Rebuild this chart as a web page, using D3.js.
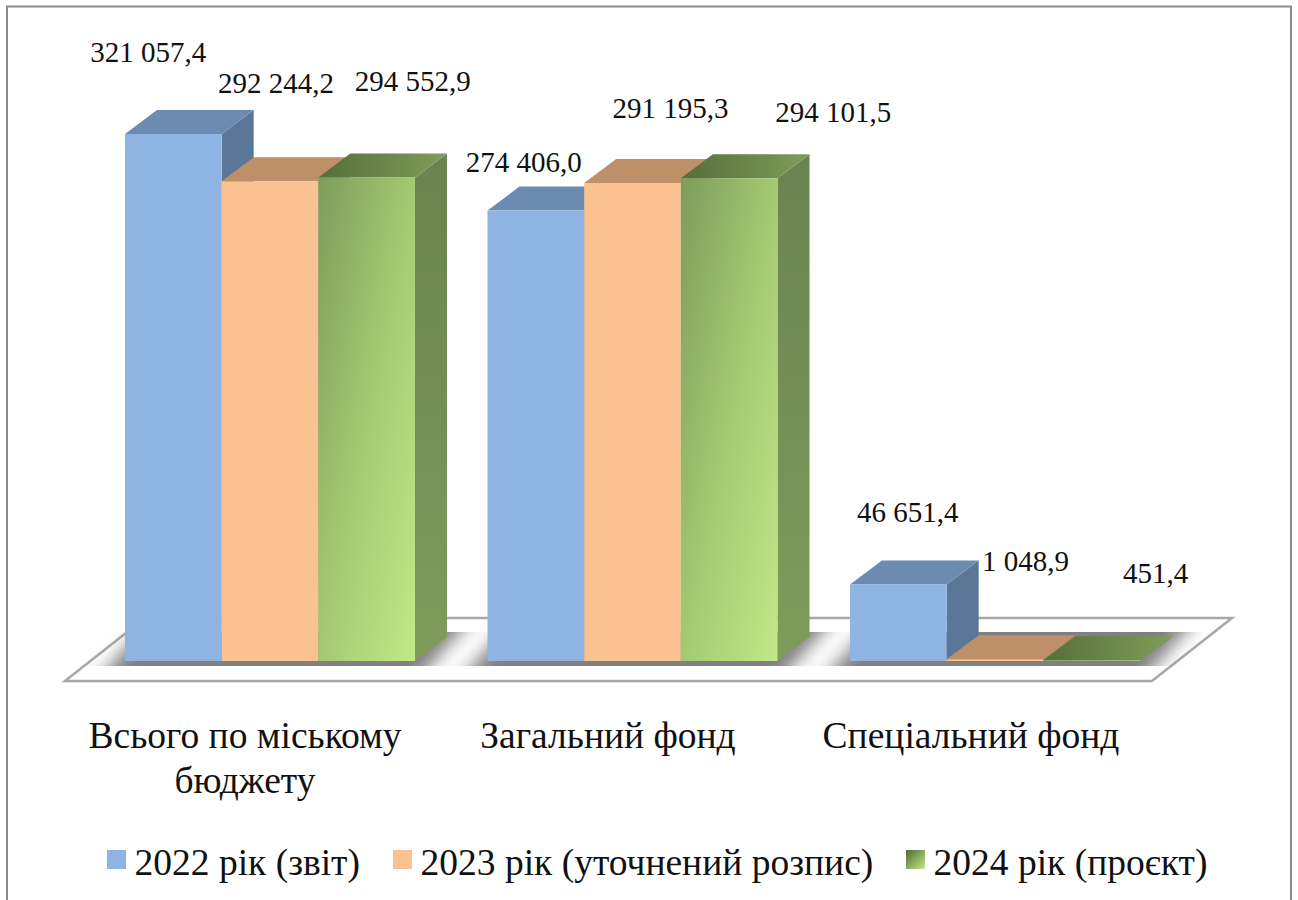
<!DOCTYPE html>
<html>
<head>
<meta charset="utf-8">
<script src="https://cdn.jsdelivr.net/npm/d3@7"></script>
<style>
  html, body { margin: 0; padding: 0; background: #fff; }
  svg { display: block; }
  text { font-family: "Liberation Serif", serif; fill: #111; }
</style>
</head>
<body>
<div id="chart"></div>
<script>
// Chart data
const categories = ["Всього по міському бюджету", "Загальний фонд", "Спеціальний фонд"];
const seriesNames = ["2022 рік (звіт)", "2023 рік (уточнений розпис)", "2024 рік (проєкт)"];
const values2022 = [321057.4, 274406.0, 46651.4];
const values2023 = [292244.2, 291195.3, 1048.9];
const values2024 = [294552.9, 294101.5, 451.4];
const seriesValues = [values2022, values2023, values2024];

// Data labels were moved by hand in the original, so keep their offsets from the bar top
const labelOffsets = [
  [[-25, -72], [6, -88], [46, -86.5]],
  [[-12.5, -39], [37.5, -65], [103.5, -56]],
  [[8.5, -62.5], [29.5, -88], [63, -77]]
];

const width = 1298, height = 900;
const base = 661;          // y of the bars' front bottom edge
const depthX = 32, depthY = 24; // 3D depth of a bar

const svg = d3.select("#chart").append("svg")
  .attr("width", width)
  .attr("height", height);

const defs = svg.append("defs");

function gradient(id, x2, y2, stops) {
  const g = defs.append("linearGradient").attr("id", id)
    .attr("x1", 0).attr("y1", 0).attr("x2", x2).attr("y2", y2);
  stops.forEach((c, i) => g.append("stop")
    .attr("offset", i / (stops.length - 1))
    .attr("stop-color", c));
}
gradient("greenFront", 1, 1, ["#7d9c5a", "#a5c972", "#c3e888"]);
gradient("greenTop", 1, 0, ["#566e3b", "#7f9d58"]);
gradient("greenSide", 0, 1, ["#6a8350", "#7f9c5c"]);
gradient("greenKey", 1, 1, ["#4f6a32", "#c3e888"]);

defs.append("filter").attr("id", "soft")
  .attr("x", "-20%").attr("y", "-50%").attr("width", "140%").attr("height", "200%")
  .append("feGaussianBlur").attr("stdDeviation", 9);

// Shadow band lies on the floor between these two y values
const shadowTop = 632, shadowBottom = 666;
defs.append("clipPath").attr("id", "shadowClip")
  .append("rect").attr("x", 0).attr("y", shadowTop)
  .attr("width", width).attr("height", shadowBottom - shadowTop);

const faces = [
  { front: "#8fb4e4", top: "#6b8bb3", side: "#5b7798", key: "#8fb4e4" },
  { front: "#fac191", top: "#bd9069", side: "#a97f5c", key: "#fac191" },
  { front: "url(#greenFront)", top: "url(#greenTop)", side: "url(#greenSide)", key: "url(#greenKey)" }
];

// Scales
const x = d3.scaleBand().domain(categories).range([125, 1140]).paddingInner(0.2).paddingOuter(0);
const xBar = d3.scaleBand().domain(d3.range(seriesNames.length)).range([0, x.bandwidth()]);
const y = d3.scaleLinear().domain([0, 321057.4]).range([base, 134]);

const fmt = d3.formatLocale({ decimal: ",", thousands: " ", grouping: [3], currency: ["", ""] }).format(",.1f");
const poly = pts => pts.map(p => p.join(",")).join(" ");

// Outer frame, open at the bottom
svg.append("path")
  .attr("d", d3.line()([[7, height], [7, 6.5], [1291, 6.5], [1291, height]]))
  .attr("fill", "none")
  .attr("stroke", "#8c8c8c")
  .attr("stroke-width", 2);

// Floor
svg.append("polygon")
  .attr("points", poly([[65, 681], [1152, 681], [1232, 618], [145, 618]]))
  .attr("fill", "#fff")
  .attr("stroke", "#a8a8a8")
  .attr("stroke-width", 2.5)
  .attr("stroke-linejoin", "miter");

// Shadows under each bar group, sheared with the floor
const shadowLayer = svg.append("g").attr("clip-path", "url(#shadowClip)");
categories.forEach(c => {
  const x0 = x(c) - 15, x1 = x(c) + x.bandwidth() + 15;
  const shear = dy => dy * 30 / 34;
  shadowLayer.append("polygon")
    .attr("points", poly([
      [x0 + shear(-34), 700], [x1 + shear(-34), 700],
      [x1 + shear(76), 590], [x0 + shear(76), 590]
    ]))
    .attr("fill", "#808080")
    .attr("filter", "url(#soft)");
});

// Bars, left to right so the right neighbour covers the side face
categories.forEach((c, ci) => {
  const group = svg.append("g").attr("class", "group");
  seriesValues.forEach((vals, si) => {
    const l = x(c) + xBar(si);
    const r = l + xBar.bandwidth();
    const t = y(vals[ci]);
    group.append("polygon")
      .attr("points", poly([[r, t], [r + depthX, t - depthY], [r + depthX, base - depthY], [r, base]]))
      .attr("fill", faces[si].side);
    group.append("polygon")
      .attr("points", poly([[l, t], [r, t], [r + depthX, t - depthY], [l + depthX, t - depthY]]))
      .attr("fill", faces[si].top);
    group.append("rect")
      .attr("x", l).attr("y", t)
      .attr("width", r - l).attr("height", base - t)
      .attr("fill", faces[si].front);
  });
});

// Data labels
categories.forEach((c, ci) => {
  seriesValues.forEach((vals, si) => {
    const off = labelOffsets[ci][si];
    svg.append("text")
      .attr("x", x(c) + xBar(si) + xBar.bandwidth() / 2 + off[0] + ci * 0.5)
      .attr("y", y(vals[ci]) + off[1])
      .attr("text-anchor", "middle")
      .style("font-size", "29px")
      .text(fmt(vals[ci]));
  });
});

// Category labels
const categoryLines = [["Всього по міському", "бюджету"], ["Загальний фонд"], ["Спеціальний фонд"]];
categories.forEach((c, ci) => {
  categoryLines[ci].forEach((line, li) => {
    svg.append("text")
      .attr("x", x(c) + x.bandwidth() / 2 - 25 + ci * 0.5)
      .attr("y", 748 + li * 45)
      .attr("text-anchor", "middle")
      .style("font-size", "37.5px")
      .text(line);
  });
});

// Legend
const legendX = [107, 393, 906];
seriesNames.forEach((name, i) => {
  svg.append("rect")
    .attr("x", legendX[i]).attr("y", 850)
    .attr("width", 19).attr("height", 19)
    .attr("fill", faces[i].key);
  svg.append("text")
    .attr("x", legendX[i] + 27.5)
    .attr("y", 875)
    .style("font-size", "37.5px")
    .text(name);
});
</script>
</body>
</html>
